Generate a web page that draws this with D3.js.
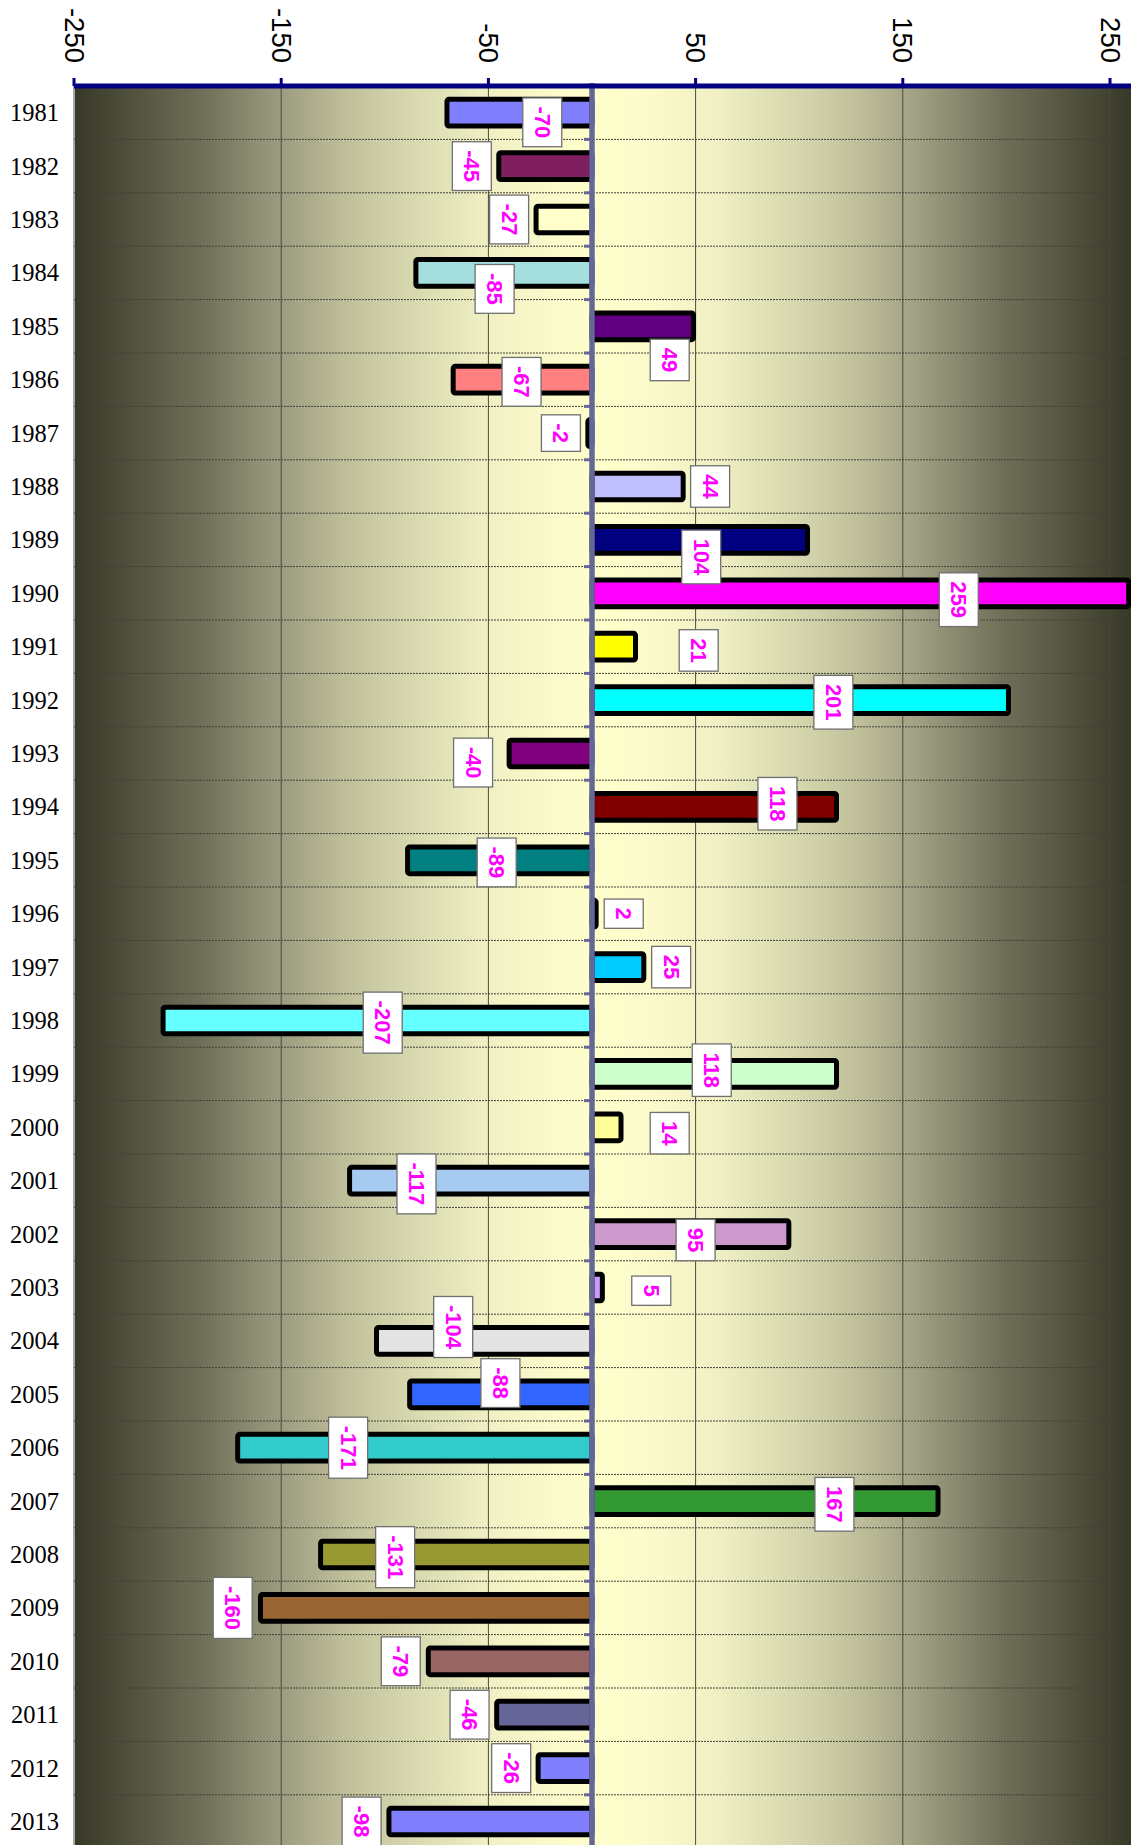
<!DOCTYPE html>
<html>
<head>
<meta charset="utf-8">
<script src="https://cdn.jsdelivr.net/npm/d3@7"></script>
<style>
  html, body { margin: 0; padding: 0; background: #ffffff; }
  svg { display: block; }
</style>
</head>
<body>
<div id="chart"></div>
<script>
// ---- data ----
const years = ["1981","1982","1983","1984","1985","1986","1987","1988","1989","1990",
  "1991","1992","1993","1994","1995","1996","1997","1998","1999","2000",
  "2001","2002","2003","2004","2005","2006","2007","2008","2009","2010",
  "2011","2012","2013"];
const values = [-70,-45,-27,-85,49,-67,-2,44,104,259,
  21,201,-40,118,-89,2,25,-207,118,14,
  -117,95,5,-104,-88,-171,167,-131,-160,-79,
  -46,-26,-98];
const barColors = ["#8080ff","#7f1f5f","#ffffcc","#a4dede","#600080","#ff8080","#ff0000","#c0c0ff","#000080","#ff00ff",
  "#ffff00","#00ffff","#800080","#800000","#008080","#0000ff","#00ccff","#66ffff","#ccffcc","#ffff99",
  "#a6caf0","#cc99cc","#cc99ff","#e3e3e3","#3366ff","#33cccc","#339933","#999933","#996633","#996666",
  "#666699","#8080ff","#8080ff"];
// data label anchor, in axis units, and its shift in fractions of a row
const labelAt = [-24,-58,-40,-47,37.5,-34,-15,57,52.7,177,
  51.5,116.5,-57.4,89.5,-46,15.3,38.2,-101,57.8,37.5,
  -84.7,50,28.6,-67,-44.2,-117.7,117,-95,-173.4,-92.3,
  -59.1,-39,-111.2];
const labelShift = [0.18,0,0,0.30,0.63,0.04,0,0,0.32,0.12,
  0.07,0.04,0.17,-0.06,0.04,0,0,0.04,-0.07,0.11,
  0.06,0.11,0.06,-0.26,-0.21,0,0.06,0.05,0,0,
  0,0,0];
const tickValues = [-250,-150,-50,50,150,250];

// ---- layout ----
const W = 1131, H = 1845;
const plotLeft = 74, plotRight = 1131, plotTop = 86;
const rowH = 53.4;

const svg = d3.select("#chart").append("svg").attr("width", W).attr("height", H);

const x = d3.scaleLinear().domain([-250, 250]).range([74, 1110]);
const y = d3.scaleBand().domain(years).range([plotTop, plotTop + rowH * years.length]).padding(0);
const plotBottom = plotTop + rowH * years.length;

// background gradient
const defs = svg.append("defs");
const grad = defs.append("linearGradient").attr("id", "bg")
  .attr("gradientUnits", "userSpaceOnUse")
  .attr("x1", plotLeft).attr("x2", plotRight).attr("y1", 0).attr("y2", 0);
const stops = [
  [0, "#383828"], [0.119, "#6e6e58"], [0.196, "#9c9c80"], [0.252, "#bcbc98"],
  [0.308, "#d4d4ac"], [0.392, "#f0f0c4"], [0.46, "#fbfbcc"], [0.5, "#ffffcc"],
  [0.54, "#fbfbcc"], [0.608, "#f0f0c4"], [0.692, "#d4d4ac"], [0.748, "#bcbc98"],
  [0.804, "#9c9c80"], [0.881, "#6e6e58"], [1, "#383828"]
];
grad.selectAll("stop").data(stops).join("stop")
  .attr("offset", d => d[0]).attr("stop-color", d => d[1]);

svg.append("rect").attr("x", plotLeft).attr("y", plotTop)
  .attr("width", plotRight - plotLeft).attr("height", plotBottom - plotTop)
  .attr("fill", "url(#bg)");

// left border of plot
svg.append("line").attr("x1", plotLeft).attr("x2", plotLeft)
  .attr("y1", plotTop).attr("y2", H)
  .attr("stroke", "#a8a8a8").attr("stroke-width", 2);

// vertical gridlines
svg.append("g").selectAll("line").data(tickValues.filter(v => v !== -250)).join("line")
  .attr("x1", d => x(d)).attr("x2", d => x(d))
  .attr("y1", plotTop).attr("y2", H)
  .attr("stroke", "#4a4a40").attr("stroke-width", 1);

// horizontal dotted gridlines at row boundaries
svg.append("g").selectAll("line").data(years.slice(1)).join("line")
  .attr("x1", plotLeft).attr("x2", plotRight)
  .attr("y1", d => y(d)).attr("y2", d => y(d))
  .attr("stroke", "#404038").attr("stroke-width", 1).attr("stroke-dasharray", "2,1");

// bars
const barH = y.bandwidth() * 0.5;
svg.append("g").selectAll("rect").data(years).join("rect")
  .attr("x", (d, i) => Math.min(x(0), x(values[i])))
  .attr("y", d => y(d) + (y.bandwidth() - barH) / 2)
  .attr("width", (d, i) => Math.abs(x(values[i]) - x(0)))
  .attr("height", barH)
  .attr("rx", 2)
  .attr("fill", (d, i) => barColors[i])
  .attr("stroke", "#000").attr("stroke-width", 5).attr("stroke-linejoin", "round");

// zero line with small ticks
const zx = x(0);
svg.append("g").selectAll("rect").data(years).join("rect")
  .attr("x", zx - 8).attr("y", d => y(d) - 1.5)
  .attr("width", 7).attr("height", 3).attr("fill", "#666699");
svg.append("line").attr("x1", zx).attr("x2", zx)
  .attr("y1", plotTop - 3).attr("y2", H)
  .attr("stroke", "#666699").attr("stroke-width", 5.5);

// top axis
const axisG = svg.append("g").attr("transform", `translate(0,${plotTop})`);
axisG.append("line").attr("x1", plotLeft).attr("x2", plotRight)
  .attr("y1", 0).attr("y2", 0).attr("stroke", "#000080").attr("stroke-width", 5);
axisG.selectAll("rect.tick").data(tickValues).join("rect").attr("class", "tick")
  .attr("x", d => x(d) - 1.5).attr("y", -8).attr("width", 3).attr("height", 8)
  .attr("fill", "#000080");
axisG.selectAll("text").data(tickValues).join("text")
  .attr("transform", d => `translate(${x(d)},${63 - plotTop}) rotate(90)`)
  .attr("text-anchor", "end").attr("dominant-baseline", "central")
  .attr("font-family", "'Liberation Sans', Arial, sans-serif")
  .attr("font-size", 27.5).attr("fill", "#000")
  .text(d => d);

// year labels
svg.append("g").selectAll("text").data(years).join("text")
  .attr("x", 59).attr("y", d => y(d) + y.bandwidth() / 2)
  .attr("text-anchor", "end").attr("dominant-baseline", "central")
  .attr("font-family", "'Liberation Serif', 'Times New Roman', serif")
  .attr("font-size", 24.5).attr("fill", "#000")
  .text(d => d);

// data labels
const lg = svg.append("g").selectAll("g").data(years).join("g")
  .attr("transform", (d, i) => `translate(${x(labelAt[i])},${y(d) + y.bandwidth() / 2 + labelShift[i] * y.bandwidth()})`);
const lt = lg.append("text")
  .attr("transform", "rotate(90)")
  .attr("text-anchor", "middle").attr("dominant-baseline", "central")
  .attr("font-family", "'Liberation Sans', Arial, sans-serif")
  .attr("font-size", 22).attr("font-weight", "bold").attr("fill", "#ff00ff")
  .text((d, i) => values[i]);
lt.each(function () {
  const len = this.getComputedTextLength();
  const boxH = len + 17, boxW = 39;
  d3.select(this.parentNode).insert("rect", "text")
    .attr("x", -boxW / 2).attr("y", -boxH / 2)
    .attr("width", boxW).attr("height", boxH)
    .attr("fill", "#ffffff").attr("stroke", "#707070").attr("stroke-width", 1.3);
});
</script>
</body>
</html>
